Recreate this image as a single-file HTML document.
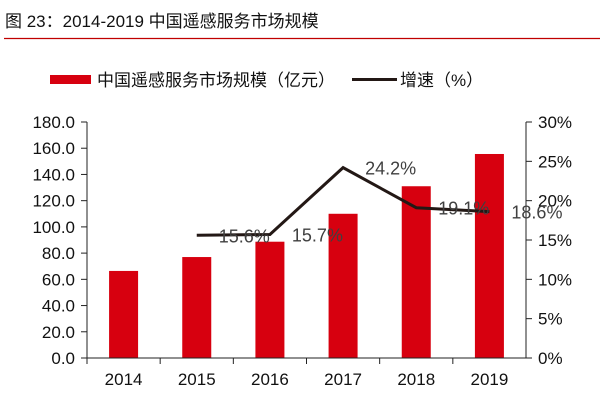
<!DOCTYPE html>
<html><head><meta charset="utf-8"><style>
body{margin:0;background:#fff}
svg{display:block;font-family:"Liberation Sans","Noto Sans CJK SC",sans-serif}
</style></head><body>
<svg id="c" width="600" height="400">
<text x="5" y="27" font-size="17" fill="#111">图 23：2014-2019 中国遥感服务市场规模</text>
<line x1="4" y1="38.5" x2="600" y2="38.5" stroke="#c00000" stroke-width="1.2"/>
<rect x="50" y="75" width="41" height="9" fill="#d7000f"/>
<text x="97" y="86" font-size="17" fill="#111">中国遥感服务市场规模（亿元）</text>
<line x1="352" y1="79.5" x2="397" y2="79.5" stroke="#231815" stroke-width="3"/>
<text x="400" y="86" font-size="17" fill="#111">增速（%）</text>
<g id="g"></g>
</svg>
<script>
const categories=["2014","2015","2016","2017","2018","2019"];
const marketSize=[66.4,77,88.7,110,131,155.6];
const growth=[null,15.6,15.7,24.2,19.1,18.6];
const growthLabels=["","15.6%","15.7%","24.2%","19.1%","18.6%"];
const leftTicks=["0.0","20.0","40.0","60.0","80.0","100.0","120.0","140.0","160.0","180.0"];
const rightTicks=["0%","5%","10%","15%","20%","25%","30%"];
const X0=87,X1=526,Y0=358,Y1=122;
const yL=v=>Y0-(v/180)*(Y0-Y1);
const yR=v=>Y0-(v/30)*(Y0-Y1);
const bw=(X1-X0)/categories.length;
const xc=i=>X0+bw*(i+0.5);
const g=document.getElementById('g');
const NS="http://www.w3.org/2000/svg";
function mk(t,a){const e=document.createElementNS(NS,t);for(const k in a)e.setAttribute(k,a[k]);g.appendChild(e);return e;}
marketSize.forEach((v,i)=>{
 const r=mk('rect',{x:xc(i)-14.5,y:yL(v),width:29,height:Y0-yL(v),fill:'#d7000f'});
 
 
});
let e;
e=mk('line',{x1:X0,y1:Y1,x2:X0,y2:Y0,stroke:'#222','stroke-width':1});


e=mk('line',{x1:X1,y1:Y1,x2:X1,y2:Y0,stroke:'#222','stroke-width':1});


e=mk('line',{x1:X0-6,y1:Y0,x2:X1+6,y2:Y0,stroke:'#222','stroke-width':1});


leftTicks.forEach((t,i)=>{
 const v=i*20,y=yL(v);
 const l=mk('line',{x1:X0-6,y1:y,x2:X0,y2:y,stroke:'#222'});
 
 
 const tx=mk('text',{x:X0-12,y:y+6,'font-size':17,'text-anchor':'end',fill:'#111'});
 tx.textContent=t;
 
 
});
rightTicks.forEach((t,i)=>{
 const y=yR(i*5);
 const l=mk('line',{x1:X1,y1:y,x2:X1+6,y2:y,stroke:'#222'});
 
 
 const tx=mk('text',{x:X1+12,y:y+6,'font-size':17,fill:'#111'});
 tx.textContent=t;
 
 
});
categories.forEach((c,i)=>{
 const x=X0+bw*i;
 const l=mk('line',{x1:x,y1:Y0,x2:x,y2:Y0+6,stroke:'#222'});
 
 
 const tx=mk('text',{x:xc(i),y:Y0+27,'font-size':17,'text-anchor':'middle',fill:'#111'});
 tx.textContent=c;
 
 
});
const pts=growth.map((v,i)=>v==null?null:[xc(i),yR(v)]).filter(p=>p);
e=mk('polyline',{points:pts.map(p=>p.join(',')).join(' '),fill:'none',stroke:'#231815','stroke-width':3});


growth.forEach((v,i)=>{
 if(v==null)return;
 const tx=mk('text',{x:xc(i)+22,y:yR(v)+7,'font-size':18,fill:'#404040'});
 tx.textContent=growthLabels[i];
 
 
});
</script>
</body></html>
